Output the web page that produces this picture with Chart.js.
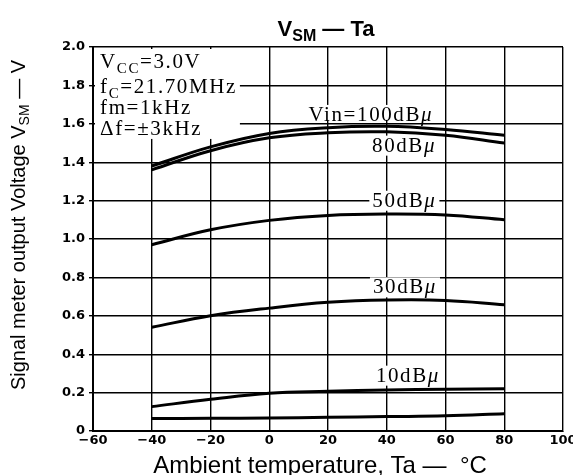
<!DOCTYPE html>
<html>
<head>
<meta charset="utf-8">
<style>
  html, body { margin: 0; padding: 0; background: #fff; }
  #wrap { width: 573px; height: 475px; }
</style>
<script src="https://cdn.jsdelivr.net/npm/chart.js@4.4.1/dist/chart.umd.min.js"></script>
</head>
<body>
<div id="wrap"><canvas id="chart" width="573" height="475"></canvas></div>
<script>
// values
const temps = [-40, -20, 0, 20, 40, 60, 80];
const vin100 = [1.38, 1.48, 1.55, 1.58, 1.587, 1.57, 1.54];
const vin80 = [1.36, 1.46, 1.527, 1.553, 1.558, 1.54, 1.50];
const vin50 = [0.97, 1.048, 1.097, 1.123, 1.13, 1.125, 1.10];
const vin30 = [0.54, 0.60, 0.64, 0.67, 0.682, 0.68, 0.658];
const vin10 = [0.127, 0.165, 0.197, 0.207, 0.214, 0.217, 0.22];
const vinNone = [0.065, 0.066, 0.068, 0.071, 0.075, 0.079, 0.09];

const xTicks = [-60, -40, -20, 0, 20, 40, 60, 80, 100];
const yTicks = [0, 0.2, 0.4, 0.6, 0.8, 1.0, 1.2, 1.4, 1.6, 1.8, 2.0];

const curveLabels = ['Vin=100dB', '80dB', '50dB', '30dB', '10dB'];
const conditions = [
  [['V'], ['CC', 's'], ['=3.0V']],
  [['f'], ['C', 's'], ['=21.70MHz']],
  [['fm=1kHz']],
  [['Δf=±3kHz']]
];

const series = [vin100, vin80, vin50, vin30, vin10, vinNone];

const serif = '"Liberation Serif", "DejaVu Serif", serif';
const sans = '"Liberation Sans", Arial, sans-serif';

// text made of runs: 's' = subscript, 'i' = italic
function runFont(r, size, family, weight) {
  if (r[1] === 's') return `${weight} ${Math.round(size * 0.72)}px ${family}`;
  if (r[1] === 'i') return `italic ${weight} ${size}px ${family}`;
  return `${weight} ${size}px ${family}`;
}
function measureRuns(ctx, runs, size, family, weight, spacing) {
  ctx.letterSpacing = (spacing || 0) + 'px';
  let w = 0;
  runs.forEach(r => { ctx.font = runFont(r, size, family, weight); w += ctx.measureText(r[0]).width; });
  return w;
}
function drawRuns(ctx, runs, x, y, size, family, weight, align, spacing) {
  const w = measureRuns(ctx, runs, size, family, weight, spacing);
  let cx = align === 'center' ? x - w / 2 : (align === 'right' ? x - w : x);
  ctx.textAlign = 'left';
  ctx.textBaseline = 'alphabetic';
  runs.forEach(r => {
    ctx.font = runFont(r, size, family, weight);
    ctx.fillText(r[0], cx, r[1] === 's' ? y + size * 0.22 : y);
    cx += ctx.measureText(r[0]).width;
  });
  ctx.letterSpacing = '0px';
  return w;
}

const labelPos = [
  { x: 34.6, y: 1.615, under: true },
  { x: 45.9, y: 1.455 },
  { x: 46.0, y: 1.168 },
  { x: 46.2, y: 0.717 },
  { x: 47.2, y: 0.257 }
];
const condPos = { x: -57.6, y: [1.889, 1.759, 1.651, 1.542] };
const labelSize = 21, labelSpacing = 1.6;

const textPlugin = {
  id: 'texts',
  beforeDatasetsDraw(chart) {
    const { ctx, scales: { x, y }, chartArea } = chart;
    ctx.save();
    // box behind the conditions block
    let maxW = 0;
    conditions.forEach(line => {
      maxW = Math.max(maxW, measureRuns(ctx, line, labelSize, serif, 'normal', labelSpacing));
    });
    ctx.fillStyle = '#fff';
    const cx0 = x.getPixelForValue(condPos.x);
    ctx.fillRect(chartArea.left + 2, chartArea.top + 2, cx0 + maxW + 3 - chartArea.left - 2,
      y.getPixelForValue(condPos.y[3]) + 4 - chartArea.top - 2);
    // boxes behind curve labels
    curveLabels.forEach((t, i) => {
      const p = labelPos[i];
      const w = measureRuns(ctx, [[t], ['μ', 'i']], labelSize, serif, 'normal', labelSpacing);
      const px = x.getPixelForValue(p.x), py = y.getPixelForValue(p.y);
      ctx.fillStyle = '#fff';
      ctx.fillRect(px - w / 2 - 3, py - 16, w + 6, p.under ? 15 : 20);
    });
    ctx.restore();
  },
  afterDatasetsDraw(chart) {
    const { ctx, scales: { x, y } } = chart;
    ctx.save();
    ctx.fillStyle = '#000';
    curveLabels.forEach((t, i) => {
      const p = labelPos[i];
      drawRuns(ctx, [[t], ['μ', 'i']], x.getPixelForValue(p.x), y.getPixelForValue(p.y),
        labelSize, serif, 'normal', 'center', labelSpacing);
    });
    conditions.forEach((line, i) => {
      drawRuns(ctx, line, x.getPixelForValue(condPos.x), y.getPixelForValue(condPos.y[i]),
        labelSize, serif, 'normal', 'left', labelSpacing);
    });
    ctx.restore();
  },
  afterDraw(chart) {
    const { ctx } = chart;
    ctx.save();
    ctx.fillStyle = '#000';
    // title
    drawRuns(ctx, [['V'], ['SM', 's'], [' — Ta']], 326, 36, 22, sans, 'bold', 'center', 0);
    // x axis title
    drawRuns(ctx, [['Ambient temperature, Ta —  °C']], 320, 473, 24, sans, 'normal', 'center', 0);
    // y axis title
    ctx.translate(25, 225);
    ctx.rotate(-Math.PI / 2);
    drawRuns(ctx, [['Signal meter output Voltage V'], ['SM', 's'], [' — V']], 0, 0, 20, sans, 'normal', 'center', 0);
    ctx.restore();
  }
};

new Chart(document.getElementById('chart'), {
  type: 'line',
  data: {
    datasets: series.map(vals => ({
      data: temps.map((t, i) => ({ x: t, y: vals[i] })),
      borderColor: '#000',
      borderWidth: 3,
      pointRadius: 0,
      tension: 0.4,
      fill: false
    }))
  },
  options: {
    responsive: false,
    animation: false,
    events: [],
    layout: { padding: { top: 47, right: 10, left: 0, bottom: 0 } },
    plugins: { legend: { display: false }, tooltip: { enabled: false }, title: { display: false } },
    scales: {
      x: {
        type: 'linear',
        min: -60, max: 100,
        afterFit(s) { s.height = 44; s.paddingLeft = 0; s.paddingRight = 0; },
        afterBuildTicks(s) { s.ticks = xTicks.map(v => ({ value: v })); },
        border: { color: '#000', width: 2 },
        grid: { color: '#000', lineWidth: 1.4, tickLength: 0 },
        ticks: {
          color: '#000', padding: 2, maxRotation: 0, autoSkip: false,
          font: { family: '"DejaVu Sans", sans-serif', size: 13, weight: 'bold' },
          callback: v => v < 0 ? '−' + Math.abs(v) : String(v)
        }
      },
      y: {
        type: 'linear',
        min: 0, max: 2,
        afterFit(s) { s.width = 93; },
        afterBuildTicks(s) { s.ticks = yTicks.map(v => ({ value: v })); },
        border: { color: '#000', width: 2 },
        grid: { color: '#000', lineWidth: 1.4, tickLength: 4 },
        ticks: {
          color: '#000', padding: 4, autoSkip: false,
          font: { family: '"DejaVu Sans", sans-serif', size: 13, weight: 'bold' },
          callback: v => v === 0 ? '0' : v.toFixed(1)
        }
      }
    }
  },
  plugins: [textPlugin]
});
</script>
</body>
</html>
